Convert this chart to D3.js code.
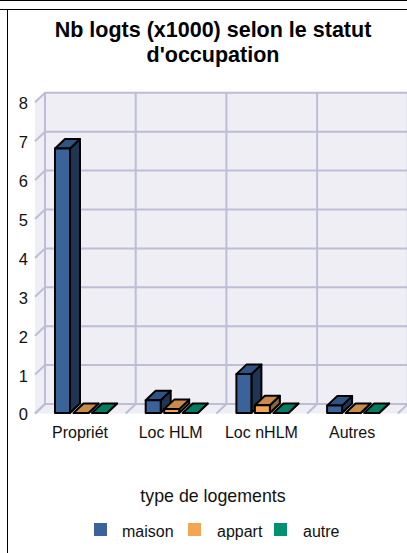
<!DOCTYPE html>
<html><head><meta charset="utf-8">
<script src="https://cdn.jsdelivr.net/npm/d3@7"></script>
<style>html,body{margin:0;padding:0;background:#fff;overflow:hidden}svg{display:block;font-family:"Liberation Sans",Arial,sans-serif}</style>
</head><body><svg id="c" width="407" height="553"></svg>
<script>
const categories = ["Propriét","Loc HLM","Loc nHLM","Autres"];
const maison = [6.8,0.33,1.0,0.19];
const appart = [0,0.1,0.2,0];
const autre = [0,0,0,0];
const seriesNames = ["maison","appart","autre"];
const yTicks = [0,1,2,3,4,5,6,7,8];
const titleLines = ["Nb logts (x1000) selon le statut","d'occupation"];
const xTitle = "type de logements";
const palette = {
  maison:{front:"#3a6399",top:"#2f5484",side:"#1f3552"},
  appart:{front:"#f2a553",top:"#c98c48",side:"#85683d"},
  autre:{front:"#009270",top:"#007d60",side:"#00553f"}
};
const svg = d3.select("#c");
const dx = 10, dy = -9.5;
const left = 35, step = 90.7, floorY = 413.5;
const x = d3.scaleBand().domain(d3.range(5).map(String)).range([left, left+step*5]).padding(0);
const y = d3.scaleLinear().domain([0,8]).range([floorY, floorY-8*38.9]);
const sx = d3.scaleBand().domain(seriesNames).range([20,20+18.5*3]).padding(0);
const barW = 15;

// page frame
svg.append("line").attr("x1",0).attr("x2",407).attr("y1",0.5).attr("y2",0.5).attr("stroke","#000");
svg.append("line").attr("x1",0).attr("x2",407).attr("y1",9.5).attr("y2",9.5).attr("stroke","#000");
svg.append("line").attr("x1",7.5).attr("x2",7.5).attr("y1",9).attr("y2",553).attr("stroke","#000");

// walls
const wall = "#eeeef4", grid = "#bdbdd6";
const yTop = y(8), yBot = y(0);
svg.append("path").attr("fill",wall)
  .attr("d",`M${left},${yBot}L${left},${yTop}L${left+dx},${yTop+dy}L407,${yTop+dy}L407,${yBot+dy}L407,${yBot}Z`);
const g = svg.append("g").attr("stroke",grid).attr("stroke-width",2).attr("fill","none");
yTicks.forEach(t=>{
  g.append("path").attr("d",`M${left},${y(t)}L${left+dx},${y(t)+dy}L407,${y(t)+dy}`);
});
d3.range(5).forEach(i=>{
  const px = x(String(i));
  g.append("path").attr("d",`M${px},${yBot}L${px+dx},${yBot+dy}L${px+dx},${yTop+dy}`);
});

// bars
const drawn = {maison,appart,autre};
seriesNames.forEach(s=>{
  categories.forEach((c,i)=>{
    const v = drawn[s][i];
    const x0 = x(String(i)) + sx(s), x1 = x0 + barW, yb = yBot-0.5, yt = y(v)-0.5;
    const col = palette[s];
    const b = svg.append("g").attr("stroke","#000").attr("stroke-width",2).attr("stroke-linejoin","round");
    b.append("path").attr("fill",col.side).attr("d",`M${x1},${yb}L${x1+dx},${yb+dy}L${x1+dx},${yt+dy}L${x1},${yt}Z`);
    b.append("path").attr("fill",col.top).attr("d",`M${x0},${yt}L${x0+dx},${yt+dy}L${x1+dx},${yt+dy}L${x1},${yt}Z`);
    if(v>0) b.append("rect").attr("fill",col.front).attr("x",x0).attr("y",yt).attr("width",barW).attr("height",yb-yt);
  });
});

// y labels
svg.append("g").selectAll("text").data(yTicks).join("text")
  .attr("x",28).attr("y",d=>y(d)+1).attr("dy","0.36em").attr("text-anchor","end")
  .attr("font-size",16.5).attr("fill","#111").text(d=>d);
// x labels
svg.append("g").selectAll("text").data(categories).join("text")
  .attr("x",(d,i)=>x(String(i))+45).attr("y",438).attr("text-anchor","middle")
  .attr("font-size",16).attr("fill","#111").text(d=>d);
// title
svg.append("g").selectAll("text").data(titleLines).join("text")
  .attr("x",213).attr("y",(d,i)=>37+i*25).attr("text-anchor","middle")
  .attr("font-size",21.5).attr("font-weight","bold").attr("fill","#000").text(d=>d);
svg.append("text").attr("x",213).attr("y",502).attr("text-anchor","middle").attr("font-size",17.8).attr("fill","#111").text(xTitle);
// legend
const lx = {maison:94,appart:188,autre:274};
const tx = {maison:122,appart:217,autre:303};
seriesNames.forEach(s=>{
  svg.append("rect").attr("x",lx[s]).attr("y",523).attr("width",13).attr("height",13).attr("fill",palette[s].front);
  svg.append("text").attr("x",tx[s]).attr("y",537).attr("font-size",16).attr("fill","#111").text(s);
});
</script></body></html>
